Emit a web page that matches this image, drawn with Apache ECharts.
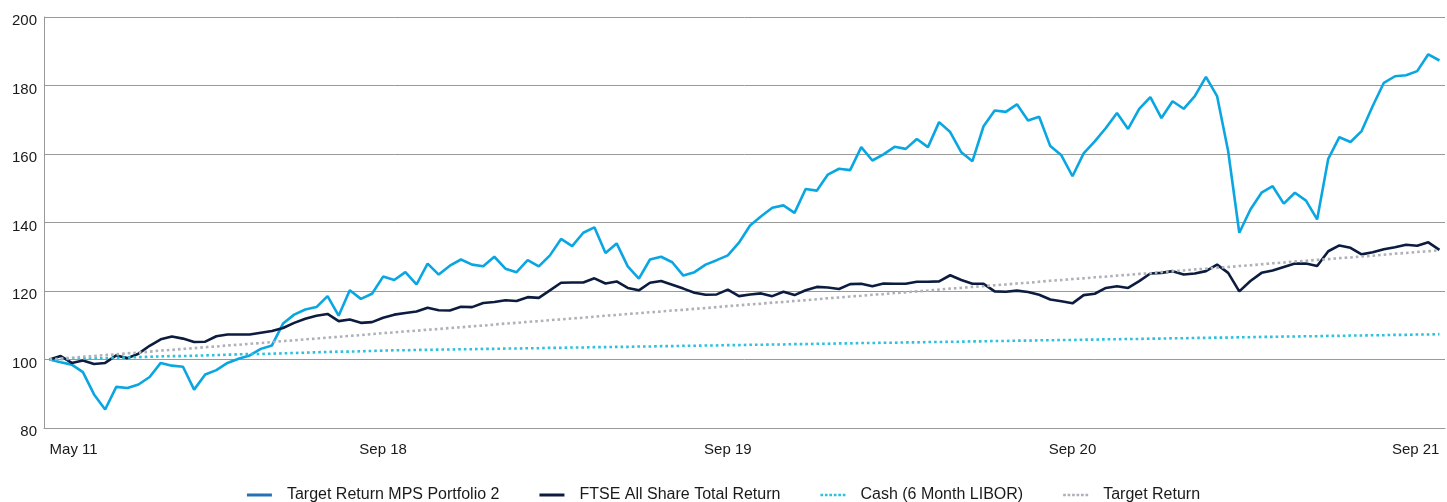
<!DOCTYPE html>
<html>
<head>
<meta charset="utf-8">
<script src="https://cdn.jsdelivr.net/npm/echarts@6.0.0/dist/echarts.min.js"></script>
<style>
  html, body { margin: 0; padding: 0; background: #fff; }
  #chart { width: 1447px; height: 502px; }
</style>
</head>
<body>
<div id="chart"></div>
<script>
// monthly index values, rebased to 100
const portfolio = [
  100.0, 99.2, 98.5, 96.3, 89.8, 85.4, 92.0, 91.7, 92.7, 94.9,
  99.0, 98.2, 97.9, 91.2, 95.6, 96.9, 99.0, 100.2, 101.2, 103.1,
  104.1, 110.5, 113.1, 114.6, 115.3, 118.5, 112.8, 120.2, 117.7, 119.2,
  124.2, 123.2, 125.5, 121.9, 128.0, 124.8, 127.4, 129.2, 127.7, 127.2,
  130.0, 126.5, 125.5, 129.0, 127.2, 130.4, 135.2, 133.1, 137.0, 138.6,
  131.1, 133.9, 127.2, 123.6, 129.2, 130.0, 128.4, 124.5, 125.5, 127.7,
  129.0, 130.4, 134.1, 139.1, 141.8, 144.3, 145.0, 142.8, 149.8, 149.3,
  154.0, 155.7, 155.3, 162.0, 158.1, 159.9, 162.1, 161.5, 164.4, 162.0,
  169.3, 166.4, 160.5, 157.9, 168.1, 172.7, 172.3, 174.5, 169.8, 170.9,
  162.3, 159.6, 153.5, 160.2, 163.7, 167.6, 172.0, 167.3, 173.2, 176.6,
  170.5, 175.4, 173.2, 176.9, 182.5, 176.9, 160.8, 137.0, 143.8, 148.7,
  150.6, 145.5, 148.7, 146.4, 140.9, 158.6, 164.9, 163.5, 166.7, 174.0,
  180.8, 182.7, 183.0, 184.2, 189.1, 187.3
]

const ftse = [
  100.0, 101.0, 99.0, 99.7, 98.7, 99.0, 101.2, 100.4, 101.7, 104.0,
  105.9, 106.7, 106.1, 105.1, 105.2, 106.8, 107.3, 107.3, 107.3, 107.8,
  108.3, 109.2, 110.7, 111.9, 112.8, 113.3, 111.2, 111.7, 110.7, 110.9,
  112.2, 113.1, 113.6, 114.0, 115.1, 114.4, 114.3, 115.4, 115.3, 116.5,
  116.8, 117.3, 117.1, 118.2, 118.0, 120.2, 122.4, 122.5, 122.5, 123.7,
  122.2, 122.8, 120.9, 120.2, 122.4, 122.9, 121.8, 120.7, 119.5, 118.9,
  119.0, 120.4, 118.5, 119.0, 119.3, 118.5, 119.8, 118.8, 120.2, 121.2,
  121.0, 120.6, 122.0, 122.1, 121.4, 122.2, 122.1, 122.1, 122.7, 122.7,
  122.8, 124.6, 123.2, 122.1, 122.1, 119.9, 119.8, 120.1, 119.7, 118.9,
  117.5, 117.0, 116.4, 118.8, 119.2, 120.9, 121.4, 120.9, 122.9, 125.1,
  125.3, 125.8, 124.8, 125.1, 125.8, 127.7, 125.3, 119.9, 122.9, 125.3,
  126.0, 127.0, 128.0, 128.0, 127.3, 131.6, 133.3, 132.6, 130.7, 131.3,
  132.2, 132.8, 133.5, 133.2, 134.2, 132.0
]

const cash = [
  100.0, 100.1, 100.2, 100.3, 100.3, 100.4, 100.5, 100.6, 100.7, 100.8,
  100.9, 101.0, 101.0, 101.1, 101.2, 101.3, 101.4, 101.5, 101.6, 101.6,
  101.7, 101.8, 101.9, 102.0, 102.1, 102.2, 102.3, 102.3, 102.4, 102.5,
  102.6, 102.7, 102.7, 102.8, 102.8, 102.9, 102.9, 103.0, 103.0, 103.1,
  103.1, 103.2, 103.2, 103.3, 103.3, 103.4, 103.4, 103.5, 103.5, 103.6,
  103.6, 103.7, 103.7, 103.8, 103.8, 103.9, 103.9, 104.0, 104.0, 104.1,
  104.1, 104.2, 104.2, 104.3, 104.3, 104.4, 104.4, 104.5, 104.5, 104.6,
  104.6, 104.7, 104.7, 104.8, 104.8, 104.9, 104.9, 105.0, 105.0, 105.1,
  105.1, 105.2, 105.2, 105.3, 105.3, 105.4, 105.4, 105.5, 105.5, 105.6,
  105.6, 105.7, 105.7, 105.8, 105.8, 105.9, 105.9, 106.0, 106.0, 106.1,
  106.1, 106.2, 106.2, 106.3, 106.3, 106.4, 106.4, 106.5, 106.5, 106.6,
  106.6, 106.7, 106.7, 106.8, 106.8, 106.9, 106.9, 107.0, 107.0, 107.1,
  107.1, 107.2, 107.2, 107.3, 107.3, 107.4
]

const target = [
  100.0, 100.3, 100.5, 100.8, 101.0, 101.3, 101.5, 101.8, 102.0, 102.3,
  102.6, 102.8, 103.1, 103.3, 103.6, 103.8, 104.1, 104.3, 104.6, 104.8,
  105.1, 105.4, 105.6, 105.9, 106.1, 106.4, 106.6, 106.9, 107.1, 107.4,
  107.7, 107.9, 108.2, 108.4, 108.7, 108.9, 109.2, 109.4, 109.7, 109.9,
  110.2, 110.5, 110.7, 111.0, 111.2, 111.5, 111.7, 112.0, 112.2, 112.5,
  112.8, 113.0, 113.3, 113.5, 113.8, 114.0, 114.3, 114.5, 114.8, 115.0,
  115.3, 115.6, 115.8, 116.1, 116.3, 116.6, 116.8, 117.1, 117.3, 117.6,
  117.9, 118.1, 118.4, 118.6, 118.9, 119.1, 119.4, 119.6, 119.9, 120.1,
  120.4, 120.7, 120.9, 121.2, 121.4, 121.7, 121.9, 122.2, 122.4, 122.7,
  123.0, 123.2, 123.5, 123.7, 124.0, 124.2, 124.5, 124.7, 125.0, 125.2,
  125.5, 125.8, 126.0, 126.3, 126.5, 126.8, 127.0, 127.3, 127.5, 127.8,
  128.1, 128.3, 128.6, 128.8, 129.1, 129.3, 129.6, 129.8, 130.1, 130.3,
  130.6, 130.9, 131.1, 131.4, 131.6, 131.9
]

// x axis labels and the point each one sits on
const tickIndex = [0, 30, 61, 92, 125]
const tickText = ['May 11', 'Sep 18', 'Sep 19', 'Sep 20', 'Sep 21']

const seriesNames = [
  'Target Return MPS Portfolio 2',
  'FTSE All Share Total Return',
  'Cash (6 Month LIBOR)',
  'Target Return'
]

const categories = portfolio.map((_, i) => i)

const FONT = '"Liberation Sans", Arial, sans-serif'
const dotIcon = 'path://M0,0h3v3h-3zM5,0h3v3h-3zM10,0h3v3h-3zM15,0h3v3h-3zM20,0h3v3h-3zM25,0h3v3h-3z'

const chart = echarts.init(document.getElementById('chart'), null, { renderer: 'canvas' })

const lineSeries = (name, data, color, type) => ({
  name: name,
  type: 'line',
  data: data,
  symbol: 'none',
  smooth: false,
  lineStyle: { color: color, width: 2.6, type: type || 'solid' },
  itemStyle: { color: color },
  emphasis: { disabled: true }
})

chart.setOption({
  animation: false,
  backgroundColor: '#fff',
  grid: {
    left: 44,
    right: 2,
    top: 17,
    bottom: 74,
    containLabel: false,
    outerBoundsMode: 'none'
  },
  legend: {
    left: 'center',
    top: 482,
    itemWidth: 25,
    itemHeight: 3,
    itemGap: 40,
    textStyle: { fontSize: 16, color: '#1a1a1a', fontFamily: FONT, padding: [0, 0, 0, 10] },
    data: [
      { name: seriesNames[0], icon: 'rect', itemStyle: { color: '#2870b6' } },
      { name: seriesNames[1], icon: 'rect', itemStyle: { color: '#0c1c3e' } },
      { name: seriesNames[2], icon: dotIcon, itemStyle: { color: '#2cc1dc' } },
      { name: seriesNames[3], icon: dotIcon, itemStyle: { color: '#aeb1b8' } }
    ]
  },
  xAxis: {
    type: 'category',
    boundaryGap: true,
    data: categories,
    axisLine: { show: true, lineStyle: { color: '#999', width: 1 } },
    axisTick: { show: false },
    splitLine: { show: false },
    axisLabel: {
      interval: (index) => tickIndex.includes(index),
      formatter: (value) => {
        const k = tickIndex.indexOf(Number(value))
        return k >= 0 ? tickText[k] : ''
      },
      margin: 14,
      fontSize: 15,
      color: '#1a1a1a',
      fontFamily: FONT,
      alignMinLabel: 'left',
      alignMaxLabel: 'right'
    }
  },
  yAxis: {
    type: 'value',
    min: 80,
    max: 200,
    interval: 20,
    axisLine: { show: true, lineStyle: { color: '#999', width: 1 } },
    axisTick: { show: false },
    splitLine: { show: true, lineStyle: { color: '#999', width: 1 } },
    axisLabel: {
      margin: 7,
      fontSize: 15,
      color: '#1a1a1a',
      fontFamily: FONT,
      verticalAlign: 'top',
      lineHeight: 8
    }
  },
  series: [
    lineSeries(seriesNames[0], portfolio, '#0aa6e2'),
    lineSeries(seriesNames[1], ftse, '#0c1c3e'),
    lineSeries(seriesNames[2], cash, '#2cc1dc', [2.6, 3]),
    lineSeries(seriesNames[3], target, '#aeb1b8', [2.6, 3])
  ]
})

window.addEventListener('resize', () => chart.resize())
</script>
</body>
</html>
